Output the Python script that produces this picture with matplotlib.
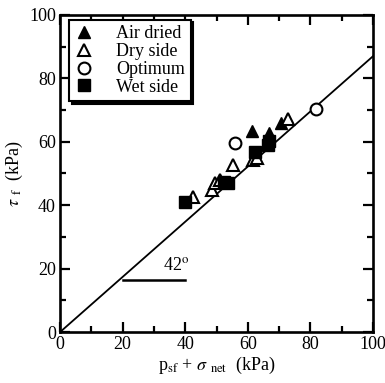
import matplotlib
matplotlib.use("Agg")
import matplotlib.pyplot as plt
import numpy as np
from matplotlib.ticker import MultipleLocator

plt.rcParams['font.family'] = ['Liberation Serif', 'DejaVu Serif']
plt.rcParams['mathtext.fontset'] = 'stix'

# shear strength data (kPa)
air_x = [61.2, 66.6, 70.5]
air_y = [63.3, 62.7, 65.8]
dry_x = [42.6, 48.5, 49.5, 51.0, 55.4, 61.8, 63.0, 72.9]
dry_y = [42.7, 44.8, 47.0, 47.8, 52.7, 54.3, 55.0, 67.1]
opt_x = [55.9, 81.8]
opt_y = [59.5, 70.2]
wet_x = [40.0, 52.5, 53.8, 62.4, 66.5, 66.8]
wet_y = [41.1, 47.2, 46.9, 56.9, 59.0, 60.2]

# failure envelope
env_x = [0, 100]
env_y = [0, 87]

fig = plt.figure(figsize=(3.85, 3.83), dpi=100)
ax = fig.add_axes([0.156, 0.133, 0.813, 0.828])

ax.plot(env_x, env_y, color='black', lw=1.3)
ax.plot([20, 40], [16.5, 16.5], color='black', lw=1.8)
ax.text(33, 19.5, r'42$^{\rm o}$', fontsize=13)

ms = 8.5
ax.plot(air_x, air_y, '^', ms=ms, color='black', ls='none', label='Air dried')
ax.plot(dry_x, dry_y, '^', ms=ms, mfc='white', mec='black', mew=1.5, ls='none', label='Dry side')
ax.plot(opt_x, opt_y, 'o', ms=ms, mfc='white', mec='black', mew=1.5, ls='none', label='Optimum')
ax.plot(wet_x, wet_y, 's', ms=ms - 0.5, color='black', ls='none', label='Wet side')

ax.set_xlim(0, 100)
ax.set_ylim(0, 100)
ax.xaxis.set_major_locator(MultipleLocator(20))
ax.xaxis.set_minor_locator(MultipleLocator(10))
ax.yaxis.set_major_locator(MultipleLocator(20))
ax.yaxis.set_minor_locator(MultipleLocator(10))
ax.tick_params(which='both', direction='in', top=True, right=True, labelsize=13, width=1.6)
ax.tick_params(which='major', length=7, pad=3)
ax.tick_params(which='minor', length=4)
for s in ax.spines.values():
    s.set_linewidth(1.9)

ax.set_xlabel(r'p$_{\rm sf}$ + $\sigma$ $_{\rm net}$  (kPa)', fontsize=13, labelpad=1)
ax.set_ylabel(r'$\tau$ $_{\rm f}$  (kPa)', fontsize=13, labelpad=3)

leg = ax.legend(loc='upper left', bbox_to_anchor=(0.03, 0.985), fontsize=13,
                frameon=True, fancybox=False, shadow={'color': 'black', 'alpha': 1},
                handlelength=1.0, handletextpad=1.3, labelspacing=0.05,
                borderpad=0.3, borderaxespad=0.0)
leg.get_frame().set_edgecolor('black')
leg.get_frame().set_linewidth(1.5)
leg.get_frame().set_alpha(1)

fig.savefig('out.png', dpi=100)
